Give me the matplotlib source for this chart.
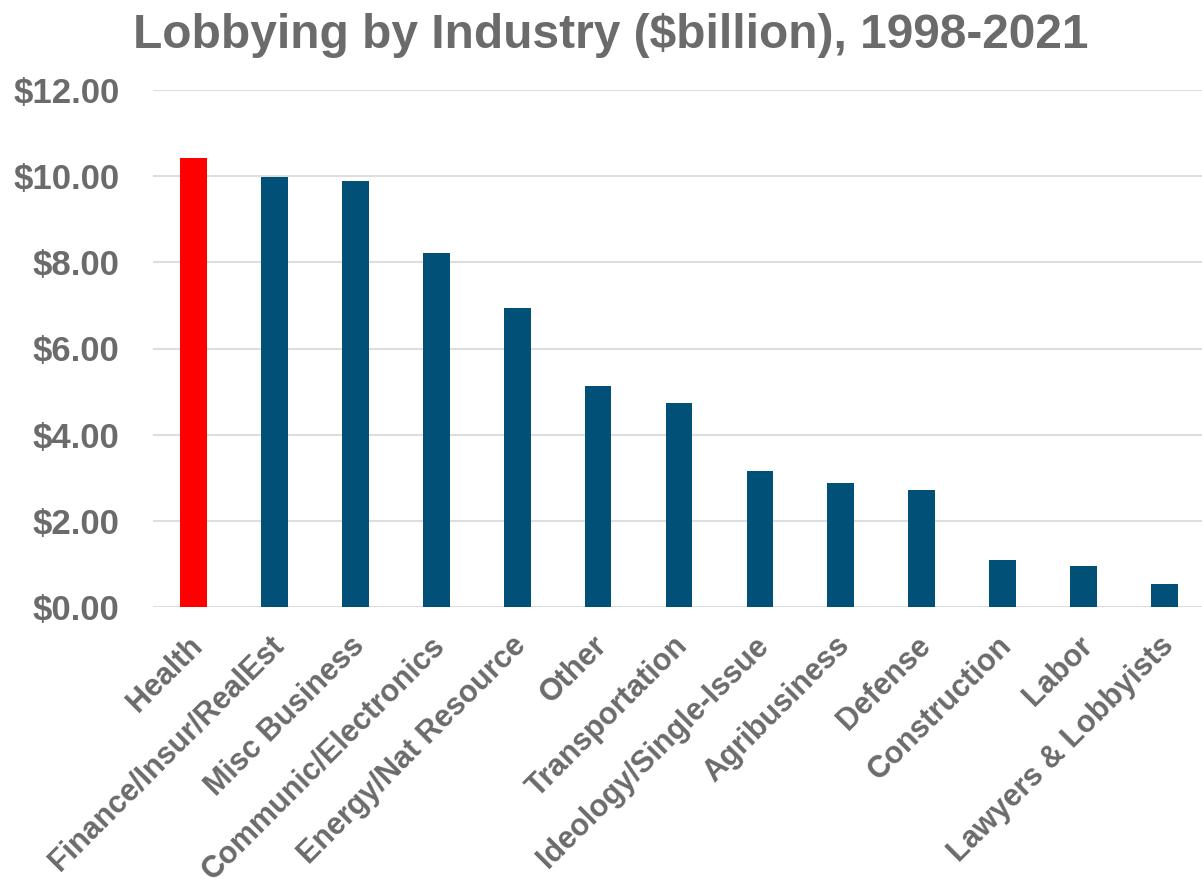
import matplotlib
matplotlib.use('Agg')
import matplotlib.pyplot as plt
import matplotlib.transforms as mtransforms
from matplotlib.ticker import FuncFormatter

plt.rcParams['font.family'] = ['Liberation Sans', 'DejaVu Sans']

industries = ['Health', 'Finance/Insur/RealEst', 'Misc Business', 'Communic/Electronics',
              'Energy/Nat Resource', 'Other', 'Transportation', 'Ideology/Single-Issue',
              'Agribusiness', 'Defense', 'Construction', 'Labor', 'Lawyers & Lobbyists']
spending = [10.42, 9.98, 9.89, 8.21, 6.94, 5.12, 4.73, 3.15, 2.88, 2.71, 1.08, 0.95, 0.53]
highlight = 'Health'

TEXT_GRAY = '#6b6b6b'
BLUE = '#005078'
RED = '#ff0000'

fig = plt.figure(figsize=(12.02, 8.9), dpi=100)
ax = fig.add_axes([153 / 1202, 283 / 890, 1052 / 1202, 517 / 890])

colors = [RED if name == highlight else BLUE for name in industries]
ax.bar(range(len(industries)), spending, width=0.33, color=colors, zorder=3)

ax.set_xlim(-0.5, len(industries) - 0.5)
ax.set_ylim(0, 12)
ax.set_yticks([0, 2, 4, 6, 8, 10, 12])
ax.yaxis.set_major_formatter(FuncFormatter(lambda v, p: '${:.2f}'.format(v)))
ax.grid(axis='y', color='#dedede', linewidth=1.5, zorder=0)
ax.set_axisbelow(True)

for side in ['top', 'right', 'left', 'bottom']:
    ax.spines[side].set_visible(False)

ax.tick_params(axis='y', length=0, pad=24, labelsize=25, labelcolor=TEXT_GRAY)
ax.tick_params(axis='x', length=0, pad=17, labelsize=22, labelcolor=TEXT_GRAY)
for lbl in ax.get_yticklabels():
    lbl.set_fontweight('bold')

ax.set_xticks(range(len(industries)))
ax.set_xticklabels(industries, rotation=45, ha='right', rotation_mode='anchor',
                   fontweight='bold')
# nudge the slanted labels a little to the left
shift = mtransforms.ScaledTranslation(-6 / 100, 0, fig.dpi_scale_trans)
for lbl in ax.get_xticklabels():
    lbl.set_transform(lbl.get_transform() + shift)

fig.text(0.508, 1 - 48 / 890, 'Lobbying by Industry ($billion), 1998-2021',
         ha='center', va='baseline', fontsize=34.5, fontweight='bold', color=TEXT_GRAY)

fig.savefig('out.png', dpi=100, facecolor='white')
